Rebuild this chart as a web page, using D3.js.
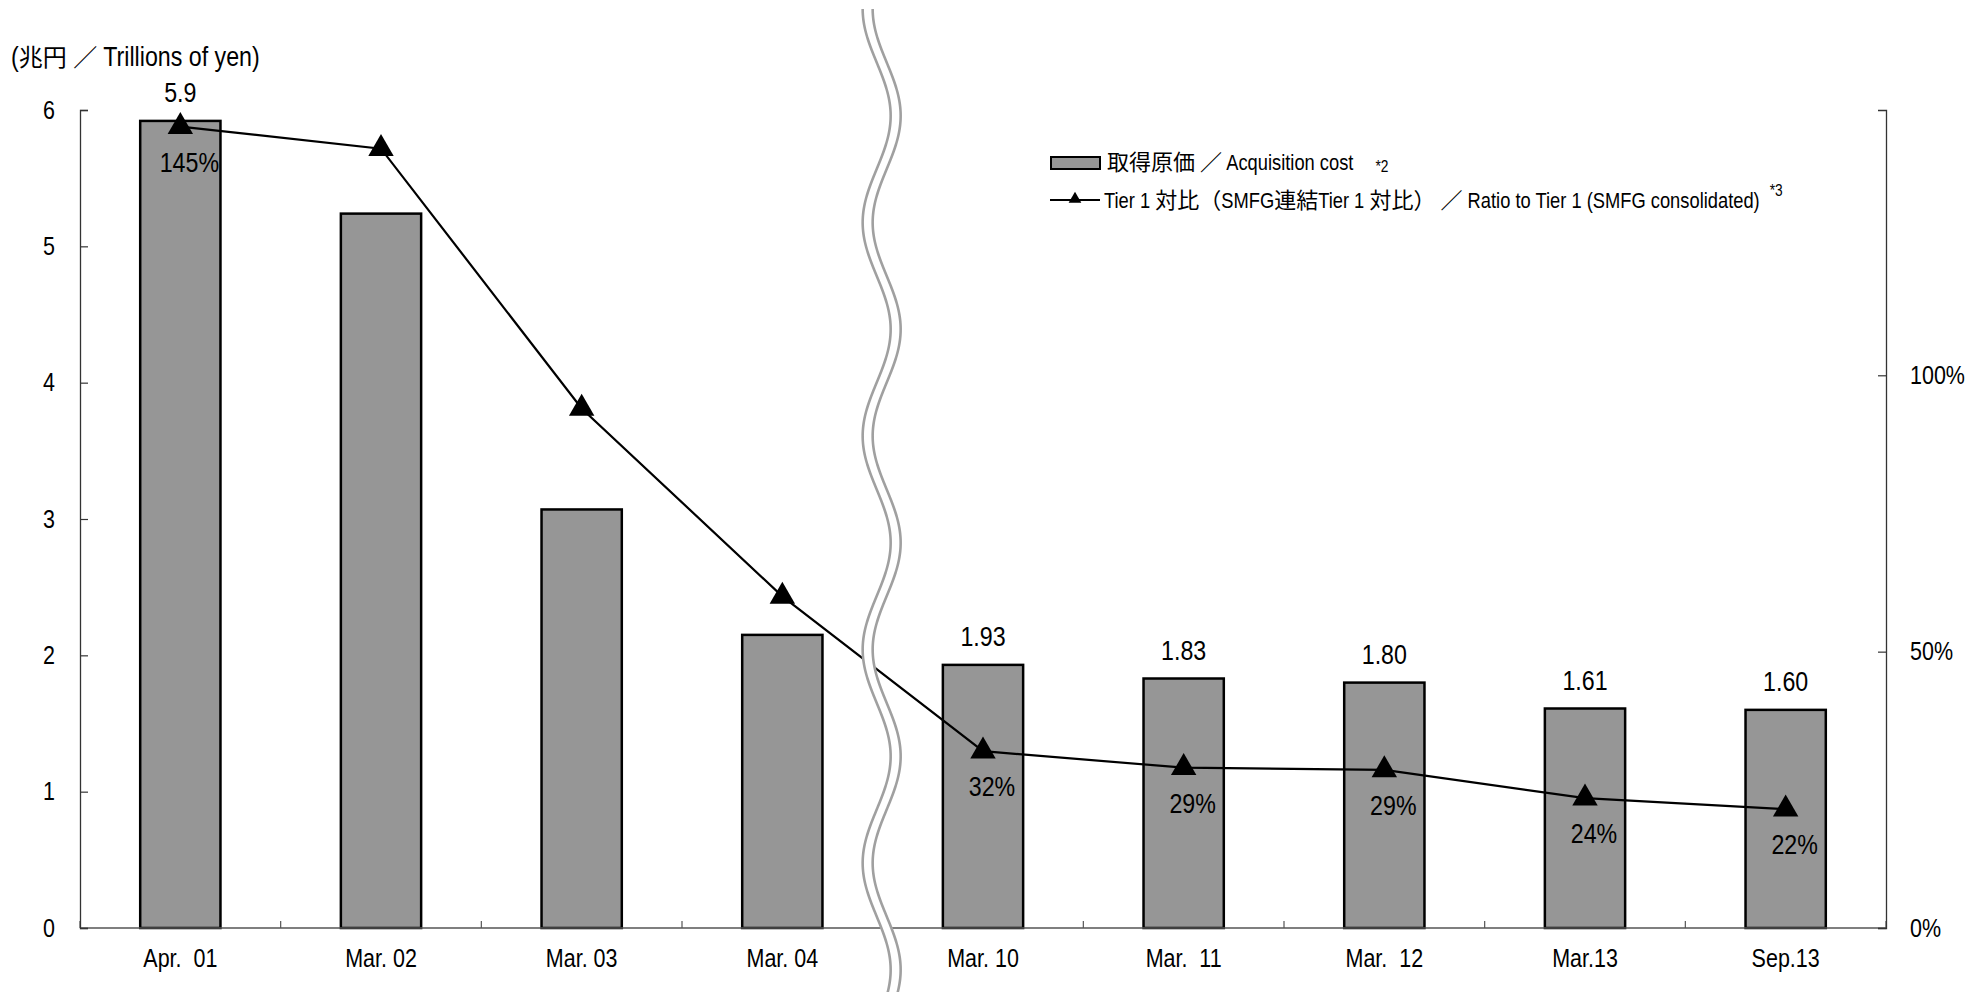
<!DOCTYPE html>
<html><head><meta charset="utf-8">
<script src="https://cdn.jsdelivr.net/npm/d3@7/dist/d3.min.js"></script>
<style>
body{margin:0;background:#fff;}
text{fill:#000;white-space:pre;}
</style>
</head><body>
<svg id="c" width="1988" height="992"></svg>
<script>
const categories = ["Apr.  01","Mar. 02","Mar. 03","Mar. 04","Mar. 10","Mar.  11","Mar.  12","Mar.13","Sep.13"];
const acquisitionCost = [5.92,5.24,3.07,2.15,1.93,1.83,1.80,1.61,1.60];
const costLabels = ["5.9","","","","1.93","1.83","1.80","1.61","1.60"];
const tier1Ratio = [1.45,1.41,0.94,0.60,0.32,0.29,0.286,0.235,0.215];
const ratioLabels = ["145%","","","","32%","29%","29%","24%","22%"];
const leftTicks = [0,1,2,3,4,5,6];
const rightTicks = [0,0.5,1.0];
const rightTickLabels = ["0%","50%","100%"];
// text pieces: [string, isCJK]
const unitLabel = [["(",0],["兆円",1],[" ",0],["／",1],[" Trillions of yen)",0]];
const legendCost = [["取得原価",1],[" ",0],["／",1],[" Acquisition cost",0]];
const legendCostNote = "*2";
const legendRatio = [["Tier 1 ",0],["対比（",1],["SMFG",0],["連結",1],["Tier 1 ",0],["対比）",1],[" ",0],["／",1],[" Ratio to Tier 1 (SMFG consolidated)",0]];
const legendRatioNote = "*3";

const LAT = "'Liberation Sans', Arimo, Arial, sans-serif";
const CJK = "'Noto Sans CJK JP', 'Noto Sans CJK SC', sans-serif";
const K = 0.86;

function ntext(parent, x, y, str, size, anchor, dy) {
  return parent.append("text")
    .attr("transform", `translate(${x},${y}) scale(${K},1)`)
    .attr("text-anchor", anchor || "start")
    .attr("dy", dy || null)
    .attr("font-size", size).attr("font-family", LAT).text(str);
}
function rich(parent, x, y, segs, size, cjkSize) {
  let cx = x;
  segs.forEach(([s, c]) => {
    const k = c ? 1 : K;
    const t = parent.append("text")
      .attr("transform", `translate(${cx},${y}) scale(${k},1)`)
      .attr("font-size", c ? cjkSize : size)
      .attr("font-family", c ? CJK : LAT).text(s);
    cx += t.node().getComputedTextLength() * k;
  });
  return cx;
}

const svg = d3.select("#c");
const L = 80, R = 1886, T = 110, B = 928;

const x = d3.scaleBand().domain(categories).range([L, R]).paddingInner(0.6).paddingOuter(0.3);
const y = d3.scaleLinear().domain([0, 6]).range([B, T]);
const y2 = d3.scaleLinear().domain([0, 1.48]).range([B, T]);
const cx = i => x(categories[i]) + x.bandwidth()/2;

// bars
svg.append("g").selectAll("rect").data(acquisitionCost).join("rect")
  .attr("x", (d,i) => x(categories[i]))
  .attr("y", d => y(d))
  .attr("width", x.bandwidth())
  .attr("height", d => B - y(d))
  .attr("fill", "#969696").attr("stroke", "#000").attr("stroke-width", 2.5);

// x axis
const step = x.step();
const xg = svg.append("g");
xg.append("line").attr("x1", L).attr("x2", R).attr("y1", B).attr("y2", B).attr("stroke", "#555").attr("stroke-width", 1.5);
d3.range(categories.length + 1).forEach(k => {
  const xx = L + k * step;
  xg.append("line").attr("x1", xx).attr("x2", xx).attr("y1", B).attr("y2", B - 7).attr("stroke", "#555").attr("stroke-width", 1.2);
});
categories.forEach((c, i) => ntext(xg, cx(i), 967, c, 25, "middle"));

// left axis
const yAxis = d3.axisLeft(y).tickValues(leftTicks).tickSize(-8).tickFormat("");
const ly = svg.append("g").attr("transform", `translate(${L},0)`).call(yAxis);
ly.select(".domain").attr("stroke", "#333").attr("stroke-width", 1.3);
ly.selectAll(".tick line").attr("stroke", "#333").attr("stroke-width", 1.2);
leftTicks.forEach(t => ntext(svg, L - 25, y(t), d3.format("d")(t), 25, "end", "0.35em"));

// right axis
const y2Axis = d3.axisRight(y2).tickValues(rightTicks).tickSize(-8).tickFormat("");
const ry = svg.append("g").attr("transform", `translate(${R},0)`).call(y2Axis);
ry.select(".domain").attr("stroke", "#333").attr("stroke-width", 1.3);
ry.selectAll(".tick line").attr("stroke", "#333").attr("stroke-width", 1.2);
rightTicks.forEach((t, i) => ntext(svg, R + 24, y2(t), rightTickLabels[i], 25, "start", "0.35em"));

// ratio line
const line = d3.line().x((d,i) => cx(i)).y(d => y2(d));
svg.append("path").datum(tier1Ratio).attr("d", line).attr("fill", "none").attr("stroke", "#000").attr("stroke-width", 2.2);
const tri = d3.symbol().type(d3.symbolTriangle).size(280);
svg.append("g").selectAll("path").data(tier1Ratio).join("path")
  .attr("d", tri)
  .attr("transform", (d,i) => `translate(${cx(i)},${y2(d)})`)
  .attr("fill", "#000");

// axis break (wave)
const midX = (x(categories[3]) + x.bandwidth() + x(categories[4])) / 2 - 1;
const waveY = d3.range(9, 1000, 2);
const wave = (off) => d3.line().x(yy => midX + off - 14 * Math.cos(2*Math.PI*(yy - 9)/213.5)).y(yy => yy).curve(d3.curveBasis)(waveY);
const wg = svg.append("g");
wg.append("path").attr("d", wave(0)).attr("fill", "none").attr("stroke", "#fff").attr("stroke-width", 11);
wg.append("path").attr("d", wave(-5)).attr("fill", "none").attr("stroke", "#a0a0a0").attr("stroke-width", 2.6);
wg.append("path").attr("d", wave(5)).attr("fill", "none").attr("stroke", "#a0a0a0").attr("stroke-width", 2.6);

// value labels
const vg = svg.append("g");
acquisitionCost.forEach((d, i) => { if (costLabels[i]) ntext(vg, cx(i), y(d) - 19, costLabels[i], 27, "middle"); });
tier1Ratio.forEach((d, i) => { if (ratioLabels[i]) ntext(vg, cx(i) + 9, y2(d) + 45, ratioLabels[i], 27, "middle"); });

// unit label
rich(svg, 11, 66, unitLabel, 27, 24);

// legend
const lg = svg.append("g");
lg.append("rect").attr("x", 1051).attr("y", 157).attr("width", 49).attr("height", 12)
  .attr("fill", "#969696").attr("stroke", "#000").attr("stroke-width", 2);
const e1 = rich(lg, 1107, 170, legendCost, 21.3, 22);
ntext(lg, e1 + 22, 172, legendCostNote, 16, "start");
lg.append("line").attr("x1", 1050).attr("x2", 1100).attr("y1", 200).attr("y2", 200).attr("stroke", "#000").attr("stroke-width", 2);
lg.append("path").attr("d", d3.symbol().type(d3.symbolTriangle).size(70)).attr("transform", "translate(1075,199)").attr("fill", "#000");
const e2 = rich(lg, 1104, 208, legendRatio, 21.3, 22);
ntext(lg, e2 + 10, 196, legendRatioNote, 16, "start");
</script>
</body></html>
